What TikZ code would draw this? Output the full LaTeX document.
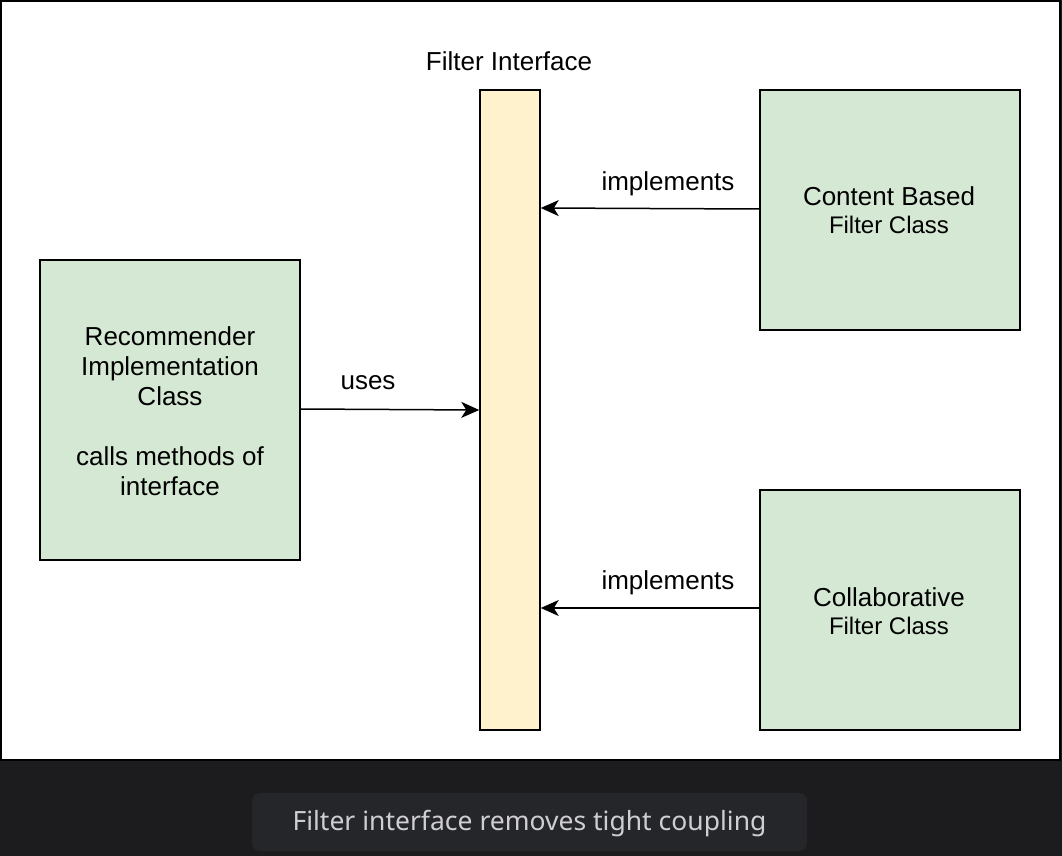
\documentclass[tikz,border=0pt]{standalone}
\usepackage{fontspec}
\setmainfont{Liberation Sans}
\newfontfamily\capfont{Noto Sans}
\usetikzlibrary{arrows.meta}
\definecolor{darkbg}{HTML}{1C1C1E}
\definecolor{pill}{HTML}{25262A}
\definecolor{captxt}{HTML}{CFCFD3}
\definecolor{boxgreen}{HTML}{D5E8D4}
\definecolor{boxyellow}{HTML}{FFF2CC}
\tikzset{
  classbox/.style={draw=black, line width=1.5pt, fill=boxgreen, minimum width=260pt, align=center, font=\fontsize{26}{30}\selectfont, inner sep=0pt},
  ifacebar/.style={draw=black, line width=1.5pt, fill=boxyellow, minimum width=60pt, minimum height=640pt, inner sep=0pt},
  conn/.style={line width=1.5pt, -{Stealth[length=18pt, width=16pt, inset=5pt]}},
  lbl/.style={font=\fontsize{26}{30}\selectfont, inner sep=0pt}
}
\begin{document}
\begin{tikzpicture}[x=1pt,y=-1pt]
\useasboundingbox (0,0) rectangle (1062,856);
\fill[darkbg] (0,0) rectangle (1062,856);
\draw[fill=white, draw=black, line width=2pt] (1,1) rectangle (1059.5,759.5);
\node[ifacebar] (iface) at (510,410) {};
\node[lbl] (ifacelbl) at (509,61) {Filter Interface};
\node[classbox, minimum height=300pt] (rec) at (170,410) {};
\node[lbl, align=center] (rectxt) at (170,411) {Recommender\\Implementation\\Class\\[30pt]calls methods of\\interface};
\node[classbox, minimum height=240pt] (cb) at (890,210) {};
\node[lbl, align=center] (cbtxt) at (889,210) {Content Based\\[-2pt]{\fontsize{24}{28}\selectfont Filter Class}};
\node[classbox, minimum height=240pt] (col) at (890,610) {};
\node[lbl, align=center] (coltxt) at (889,611) {Collaborative\\[-2pt]{\fontsize{24}{28}\selectfont Filter Class}};
\coordinate (recA) at (rec.east |- 0,409);
\coordinate (ifA) at (iface.west |- 0,410);
\draw[conn] (recA) -- (ifA);
\node[lbl] (uses) at (368,383) {uses};
\coordinate (cbA) at (cb.west |- 0,209);
\coordinate (ifB) at (iface.east |- 0,208);
\draw[conn] (cbA) -- (ifB);
\node[lbl] (imp1) at (668,184) {implements};
\coordinate (colA) at (col.west |- 0,608);
\coordinate (ifC) at (iface.east |- 0,608);
\draw[conn] (colA) -- (ifC);
\node[lbl] (imp2) at (668,583) {implements};
\fill[pill, rounded corners=8pt] (252,793) rectangle (807,851);
\node[font=\capfont\fontsize{26.5}{30}\selectfont, text=captxt] (cap) at (529.5,824) {Filter interface removes tight coupling};
\end{tikzpicture}
\end{document}
